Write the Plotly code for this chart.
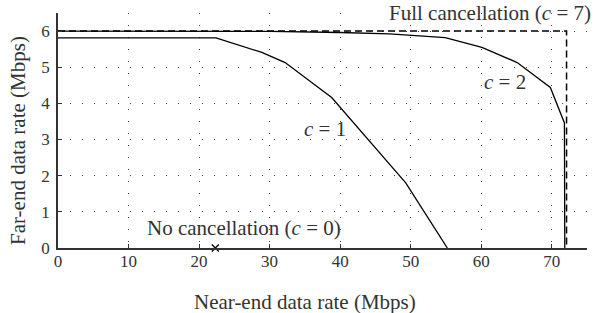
import plotly.graph_objects as go

# Full cancellation (c = 7)
full_x = [0, 72.1, 72.1]
full_y = [6.0, 6.0, 0]
# c = 2
c2_x = [0, 30, 40, 47, 54.9, 60.1, 65.1, 69.8, 71.8, 71.85]
c2_y = [6.0, 5.99, 5.96, 5.92, 5.82, 5.55, 5.13, 4.44, 3.46, 0]
# c = 1
c1_x = [0, 22.4, 28.9, 32.2, 38.8, 49.3, 55.2]
c1_y = [5.81, 5.81, 5.41, 5.13, 4.16, 1.8, 0]
# No cancellation (c = 0)
c0_x = [22.3]
c0_y = [0]

x_ticks = [0, 10, 20, 30, 40, 50, 60, 70]
y_ticks = [0, 1, 2, 3, 4, 5, 6]

FONT = "Liberation Serif"
TXT = "#333333"

W, H = 595, 313
ML, MR, MT, MB = 58, 8, 13, 65

def px_to_paper_x(px):
    return (px - ML) / (W - ML - MR)

def px_to_paper_y(py):
    return (H - MB - py) / (H - MT - MB)

fig = go.Figure()
fig.add_trace(go.Scatter(x=full_x, y=full_y, mode="lines",
                         line=dict(color="black", width=1.5, dash="7px,4px"),
                         cliponaxis=False, showlegend=False))
fig.add_trace(go.Scatter(x=c2_x, y=c2_y, mode="lines",
                         line=dict(color="black", width=1.3),
                         showlegend=False))
fig.add_trace(go.Scatter(x=c1_x, y=c1_y, mode="lines",
                         line=dict(color="black", width=1.3),
                         showlegend=False))
fig.add_trace(go.Scatter(x=c0_x, y=c0_y, mode="markers",
                         marker=dict(symbol="x-thin", size=7, color="black",
                                     line=dict(width=1.3, color="black")),
                         cliponaxis=False, showlegend=False))

annots = [
    dict(x=61.3, y=6.5, text="Full cancellation (<i>c</i> = 7)"),
    dict(x=63.4, y=4.58, text="<i>c</i> = 2"),
    dict(x=37.9, y=3.28, text="<i>c</i> = 1"),
    dict(x=26.3, y=0.56, text="No cancellation (<i>c</i> = 0)"),
]
for a in annots:
    fig.add_annotation(x=a["x"], y=a["y"], text=a["text"], showarrow=False,
                       xref="x", yref="y", xanchor="center", yanchor="middle",
                       font=dict(family=FONT, size=21, color=TXT))

# axis titles (placed in paper coordinates)
fig.add_annotation(x=px_to_paper_x(305), y=px_to_paper_y(302),
                   text="Near-end data rate (Mbps)", showarrow=False,
                   xref="paper", yref="paper", xanchor="center", yanchor="middle",
                   font=dict(family=FONT, size=21, color=TXT))
fig.add_annotation(x=px_to_paper_x(18), y=px_to_paper_y(141),
                   text="Far-end data rate (Mbps)", showarrow=False, textangle=-90,
                   xref="paper", yref="paper", xanchor="center", yanchor="middle",
                   font=dict(family=FONT, size=21, color=TXT))

grid = dict(showgrid=True, gridcolor="#444444", gridwidth=1, griddash="1px,11px")

fig.update_xaxes(range=[0, 75], tickvals=x_ticks, ticks="inside", ticklen=4,
                 tickcolor="#333333", showline=True, linecolor="#333333", linewidth=1.5,
                 zeroline=False, automargin=False, ticklabelstandoff=-3,
                 tickfont=dict(family=FONT, size=17, color=TXT),
                 **grid)
fig.update_yaxes(range=[0, 6.5], tickvals=y_ticks, ticks="inside", ticklen=4,
                 tickcolor="#333333", showline=True, linecolor="#333333", linewidth=1.5,
                 zeroline=False, automargin=False, ticklabelstandoff=3,
                 tickfont=dict(family=FONT, size=17, color=TXT),
                 **grid)

fig.update_layout(width=W, height=H, margin=dict(l=ML, r=MR, t=MT, b=MB),
                  plot_bgcolor="white", paper_bgcolor="white",
                  font=dict(family=FONT, color=TXT))

# remove the default 8px page margin so the figure sits at the window origin
fig.write_html("out.html", config={"displayModeBar": False},
               post_script="document.body.style.margin='0';document.body.style.padding='0';")
